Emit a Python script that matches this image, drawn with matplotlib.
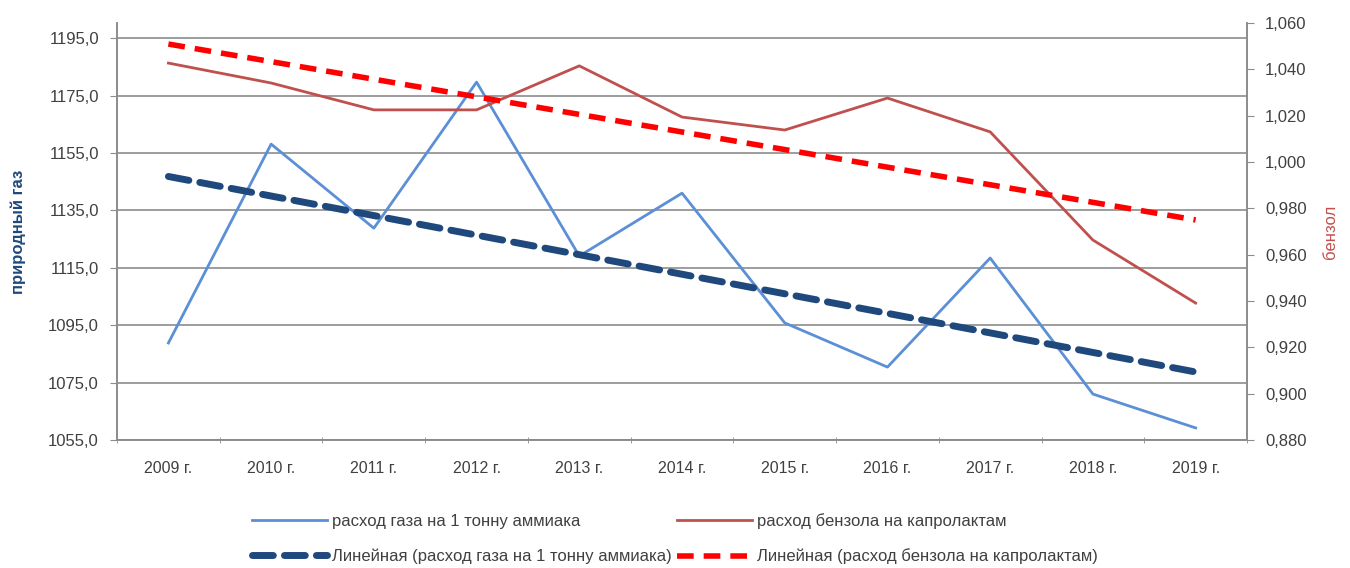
import matplotlib.pyplot as plt
import numpy as np
from matplotlib.ticker import FuncFormatter

# данные
years = ["2009 г.", "2010 г.", "2011 г.", "2012 г.", "2013 г.", "2014 г.",
         "2015 г.", "2016 г.", "2017 г.", "2018 г.", "2019 г."]
gas = [1088.8, 1158.1, 1128.8, 1179.7, 1119.1, 1141.0,
       1095.8, 1080.4, 1118.4, 1071.0, 1059.2]
benzene = [1.0427, 1.0341, 1.0225, 1.0225, 1.0415, 1.0194,
           1.0138, 1.0276, 1.0130, 0.9663, 0.9391]

plt.rcParams['font.family'] = ['Liberation Sans', 'DejaVu Sans']

x = np.arange(len(years))
# линейные тренды как в Excel
gas_trend = np.polyval(np.polyfit(x, gas, 1), x)
benz_trend = np.polyval(np.polyfit(x, benzene, 1), x)

fig = plt.figure(figsize=(13.5, 5.68), dpi=100)
ax = fig.add_axes([0.0867, 0.2254, 0.8370, 0.7341])
ax2 = ax.twinx()

grid_c = "#8c8c8c"
text_c = "#404040"

ax.set_ylim(1055, 1200.3)
ax.set_yticks(np.arange(1055, 1196, 20))
ax.yaxis.set_major_formatter(FuncFormatter(lambda v, p: f"{v:.1f}".replace(".", ",")))
ax.grid(axis="y", color=grid_c, linewidth=1.2)
ax.set_axisbelow(True)
ax.set_xlim(-0.5, len(years) - 0.5)
ax.set_xticks(x)
ax.set_xticklabels(years)
ax.set_xticks(np.arange(-0.5, len(years), 1), minor=True)
ax.tick_params(axis="x", which="major", length=0, pad=15, labelsize=11.5, labelcolor=text_c)
ax.tick_params(axis="x", which="minor", length=5, color=grid_c, direction="inout")
ax.tick_params(axis="y", length=5, color=grid_c, labelsize=12, labelcolor=text_c, pad=8)

ax2.set_ylim(0.880, 1.060)
ax2.set_yticks(np.arange(0.880, 1.0601, 0.020))
ax2.yaxis.set_major_formatter(FuncFormatter(lambda v, p: f"{v:.3f}".replace(".", ",")))
ax2.tick_params(axis="y", length=5, color=grid_c, labelsize=12, labelcolor=text_c, pad=8)

for a in (ax, ax2):
    a.spines["top"].set_visible(False)
    for s in ("left", "right", "bottom"):
        a.spines[s].set_color(grid_c)
        a.spines[s].set_linewidth(1.2)

l1, = ax.plot(x, gas, color="#5b8fd6", linewidth=2, label="расход газа на 1 тонну аммиака")
l3, = ax.plot(x, gas_trend, color="#1f497d", linewidth=5, linestyle=(0, (3, 1.6)),
              dash_capstyle="round", label="Линейная (расход газа на 1 тонну аммиака)")
l2, = ax2.plot(x, benzene, color="#c0504d", linewidth=2, label="расход бензола на капролактам")
l4, = ax2.plot(x, benz_trend, color="#ff0000", linewidth=4, linestyle=(0, (3, 1.8)),
               label="Линейная (расход бензола на капролактам)")

ax.set_ylabel("природный газ", color="#1f497d", fontsize=12, fontweight="bold", labelpad=16)
ax2.set_ylabel("бензол", color="#c0504d", fontsize=12, rotation=90, labelpad=12)

fig.legend(handles=[l1, l3, l2, l4], ncol=2, loc="lower center",
           bbox_to_anchor=(0.5, -0.02), frameon=False, fontsize=12,
           handlelength=4.5, columnspacing=0.3, handletextpad=0.3,
           labelspacing=1.2, labelcolor=text_c)

fig.savefig("out.png", dpi=100)
